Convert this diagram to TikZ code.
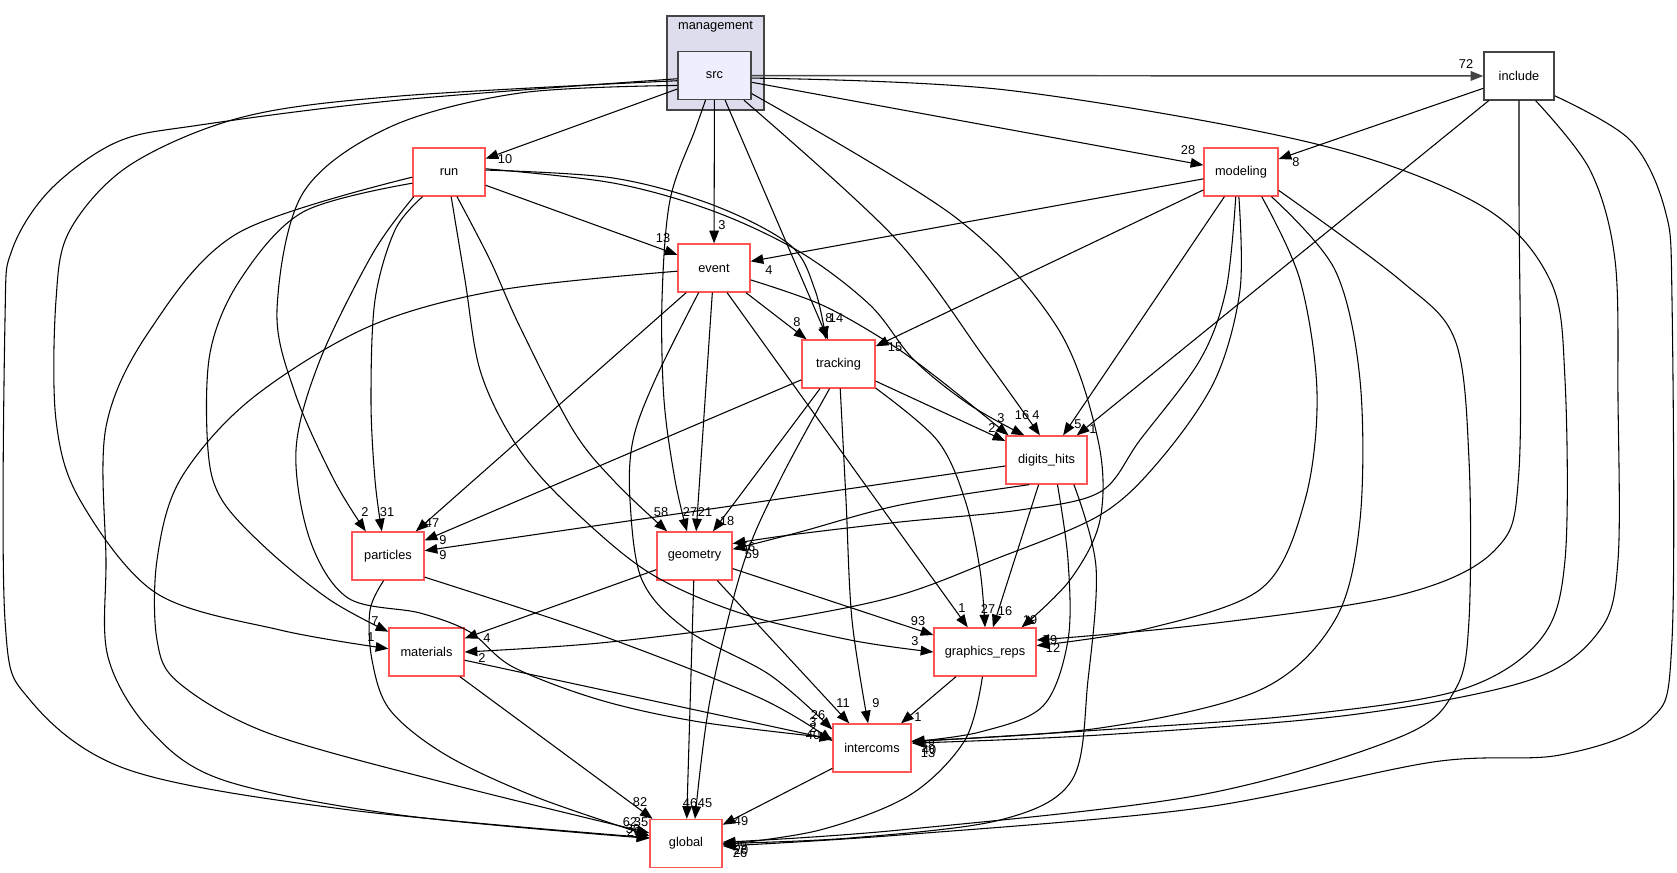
\documentclass[tikz,border=0pt]{standalone}
\usepackage{fontspec}
\setmainfont{Liberation Sans}
\usetikzlibrary{arrows.meta}
\definecolor{redb}{RGB}{255,85,85}
\definecolor{clus}{RGB}{221,221,238}
\definecolor{srcfill}{RGB}{238,238,255}
\definecolor{dgray}{RGB}{68,68,68}
\newcommand{\dfont}{\fontsize{9.6}{11}\selectfont}
\begin{document}
\begin{tikzpicture}[x=0.75pt,y=-0.75pt,
  box/.style={draw=redb, line width=1pt, fill=white, minimum height=36pt, inner sep=0pt, font=\dfont},
  dirbox/.style={draw=dgray, line width=1pt, minimum height=36pt, inner sep=0pt, font=\dfont},
  cluster/.style={draw=dgray, fill=clus, line width=1pt, inner sep=0pt},
  edge/.style={draw=black, line width=0.8pt, -{Triangle[length=9.5pt,width=7.2pt]}},
  sm/.style={smooth, tension=0.55},
  lbl/.style={inner sep=0pt, font=\dfont}]
\useasboundingbox (0,0) rectangle (1677,873);

% cluster
\node[cluster, minimum width=72.75pt, minimum height=70.5pt] (mgmt) at (715.5,63) {};
\node[lbl] (mgmtlabel) at (715.5,27) {management};

% nodes
\node[dirbox, fill=srcfill, minimum width=54.75pt] (src) at (714.5,75.5) {src};
\node[dirbox, fill=white, minimum width=52.5pt] (include) at (1519,76) {include};
\node[box, minimum width=55.5pt] (modeling) at (1241,172) {modeling};
\node[box, minimum width=54pt] (run) at (449,172) {run};
\node[box, minimum width=54pt] (event) at (714,268) {event};
\node[box, minimum width=54.75pt] (tracking) at (838.5,364) {tracking};
\node[box, minimum width=60.75pt] (digits) at (1046.5,460) {digits\_hits};
\node[box, minimum width=54pt] (particles) at (388,556) {particles};
\node[box, minimum width=56.25pt] (geometry) at (694.5,556) {geometry};
\node[box, minimum width=56.25pt] (materials) at (426.5,652) {materials};
\node[box, minimum width=76.5pt] (graphics) at (985,652) {graphics\_reps};
\node[box, minimum width=58.5pt] (intercoms) at (872,748) {intercoms};
\node[box, minimum width=54pt] (global) at (686,843.5) {global};

% ---- straight edges
\draw[edge, draw=dgray, line width=1.1pt] (src) -- (include);
\draw[edge] (src) -- (modeling);
\draw[edge] (src) -- (run);
\draw[edge] (src) -- (event);
\draw[edge] (src) -- (tracking);
\draw[edge] (include) -- (modeling);
\draw[edge] (include) -- (digits);
\draw[edge] (modeling) -- (event);
\draw[edge] (modeling) -- (tracking);
\draw[edge] (modeling) -- (digits);
\draw[edge] (run) -- (event);
\draw[edge] (event) -- (tracking);
\draw[edge] (event) -- (particles);
\draw[edge] (event) -- (geometry);
\draw[edge] (event.298) -- (graphics.125);
\draw[edge] (tracking) -- (digits);
\draw[edge] (tracking) -- (particles);
\draw[edge] (tracking) -- (geometry);
\draw[edge] (digits) -- (particles);
\draw[edge] (digits) -- (graphics);
\draw[edge] (geometry) -- (materials);
\draw[edge] (geometry) -- (graphics);
\draw[edge] (geometry) -- (intercoms);
\draw[edge] (geometry) -- (global);
\draw[edge] (materials) -- (intercoms);
\draw[edge] (materials) -- (global);
\draw[edge] (graphics) -- (intercoms);
\draw[edge] (intercoms) -- (global);

% ---- curved edges
% src
\draw[edge] plot[sm] coordinates {(src.195) (520,93) (390,127) (303,193) (277,310) (295,393) (334,480) (particles.132)};
\draw[edge] plot[sm] coordinates {(src.188) (400,96) (243,117) (130,165) (70,230) (56,300) (56,420) (80,500) (156,593) (280,630) (materials.175)};
\draw[edge] plot[sm] coordinates {(src.185) (400,100) (200,125) (117,142) (50,190) (12,250) (5,320) (5,620) (30,700) (129,770) (350,810) (global.171)};
\draw[edge] plot[sm] coordinates {(src.250) (695,130) (670,200) (662,300) (664,400) (675,480) (geometry.107)};
\draw[edge] plot[sm] coordinates {(src.320) (894,237) (986,360) (digits.105)};
\draw[edge] plot[sm] coordinates {(src.334) (955,217) (1057,327) (1098,440) (1100,520) (1070,580) (graphics.34)};
\draw[edge] plot[sm] coordinates {(src.356) (1006,90) (1312,143) (1480,205) (1550,280) (1565,380) (1565,560) (1540,640) (1460,690) (1300,715) (1100,730) (intercoms.9)};
% include
\draw[edge] plot[sm] coordinates {(include.south) (1519,200) (1519,470) (1495,550) (1400,595) (1200,625) (graphics.13)};
\draw[edge] plot[sm] coordinates {(include.304) (1590,170) (1615,260) (1618,400) (1618,560) (1600,630) (1530,680) (1350,715) (1100,735) (intercoms.7)};
\draw[edge] plot[sm] coordinates {(include.331) (1630,140) (1665,210) (1672,300) (1672,640) (1650,720) (1560,755) (1433,762) (1200,808) (900,835) (global.356)};
% modeling
\draw[edge] plot[sm] coordinates {(modeling.258) (1226,290) (1200,360) (1140,440) (1100,492) (1020,510) (900,522) (790,535) (geometry.18)};
\draw[edge] plot[sm] coordinates {(modeling.265) (1240,290) (1215,380) (1160,460) (1100,515) (993,560) (893,597) (760,623) (600,643) (materials.east)};
\draw[edge] plot[sm] coordinates {(modeling.310) (1300,280) (1317,393) (1305,500) (1262,588) (1150,628) (graphics.7)};
\draw[edge] plot[sm] coordinates {(modeling.321) (1335,270) (1360,380) (1360,520) (1335,620) (1260,690) (1100,728) (intercoms.10)};
\draw[edge] plot[sm] coordinates {(modeling.334) (1400,280) (1455,340) (1469,460) (1469,620) (1455,690) (1400,737) (1200,795) (900,830) (global.2)};
% run
\draw[edge] plot[sm] coordinates {(run.3) (613,178) (713,205) (790,245) (815,290) (tracking.117)};
\draw[edge] plot[sm] coordinates {(run.5) (613,183) (713,211) (800,252) (870,305) (914,360) (970,405) (digits.132)};
\draw[edge] plot[sm] coordinates {(run.223) (395,230) (375,300) (371,400) (375,480) (particles.104)};
\draw[edge] plot[sm] coordinates {(run.288) (490,260) (520,327) (573,430) (615,482) (geometry.138)};
\draw[edge] plot[sm] coordinates {(run.275) (465,280) (480,370) (513,440) (560,497) (645,570) (737,612) (850,640) (graphics.west)};
\draw[edge] plot[sm] coordinates {(run.197) (303,212) (240,280) (210,353) (208,450) (222,500) (268,550) (330,600) (materials.152)};
\draw[edge] plot[sm] coordinates {(run.215) (373,253) (320,360) (296,450) (310,540) (348,598) (420,613) (470,632) (513,667) (600,700) (700,722) (intercoms.166)};
\draw[edge] plot[sm] coordinates {(run.188) (238,233) (150,330) (106,427) (106,560) (108,657) (150,730) (223,780) (400,815) (global.172)};
% event
\draw[edge] plot[sm] coordinates {(event.342) (822,305) (889,343) (940,380) (digits.147)};
\draw[edge] plot[sm] coordinates {(event.238) (655,380) (633,440) (630,500) (642,580) (687,630) (770,675) (intercoms.155)};
\draw[edge] plot[sm] coordinates {(event.185) (500,290) (368,327) (250,400) (180,480) (157,560) (157,640) (179,683) (268,733) (446,783) (global.164)};
% tracking
\draw[edge] plot[sm] coordinates {(tracking.250) (780,480) (743,565) (710,700) (global.70)};
\draw[edge] plot[sm] coordinates {(tracking.274) (846,500) (852,620) (intercoms.99)};
\draw[edge] plot[sm] coordinates {(tracking.327) (937,440) (965,500) (980,570) (graphics.90)};
% digits
\draw[edge] plot[sm] coordinates {(digits.235) (900,505) (800,532) (geometry.10)};
\draw[edge] plot[sm] coordinates {(digits.294) (1068,560) (1068,640) (1043,706) (980,732) (intercoms.9)};
\draw[edge] plot[sm] coordinates {(digits.318) (1096,567) (1088,680) (1072,780) (1000,820) (850,838) (global.0)};
% particles
\draw[edge] plot[sm] coordinates {(particles.330) (600,635) (760,698) (intercoms.170)};
\draw[edge] plot[sm] coordinates {(particles.260) (370,610) (372,660) (390,710) (446,755) (536,797) (global.168)};
% graphics
\draw[edge] plot[sm] coordinates {(graphics.264) (965,740) (910,795) (820,830) (global.358)};

% ---- labels
\node[lbl] (l1) at (1466,64) {72};
\node[lbl] (l2) at (1188,150) {28};
\node[lbl] (l3) at (1296,162) {8};
\node[lbl] (l4) at (505,159) {10};
\node[lbl] (l5) at (722,225) {3};
\node[lbl] (l6) at (663,238) {13};
\node[lbl] (l7) at (769,270) {4};
\node[lbl] (l8) at (797,322) {8};
\node[lbl] (l9) at (829,318) {8};
\node[lbl] (l10) at (836,318) {14};
\node[lbl] (l11) at (895,347) {15};
\node[lbl] (l12) at (992,428) {2};
\node[lbl] (l13) at (1001,418) {3};
\node[lbl] (l14) at (1022,415) {16};
\node[lbl] (l15) at (1036,415) {4};
\node[lbl] (l16) at (1078,424) {5};
\node[lbl] (l17) at (1093,429) {1};
\node[lbl] (l18) at (365,512) {2};
\node[lbl] (l19) at (387,512) {31};
\node[lbl] (l20) at (432,523) {47};
\node[lbl] (l21) at (443,540) {9};
\node[lbl] (l22) at (443,555) {9};
\node[lbl] (l23) at (661,512) {58};
\node[lbl] (l24) at (690,512) {27};
\node[lbl] (l25) at (705,512) {21};
\node[lbl] (l26) at (727,521) {18};
\node[lbl] (l27) at (748,547) {56};
\node[lbl] (l28) at (752,554) {59};
\node[lbl] (l29) at (375,621) {7};
\node[lbl] (l30) at (371,637) {1};
\node[lbl] (l31) at (487,638) {4};
\node[lbl] (l32) at (482,658) {2};
\node[lbl] (l33) at (918,621) {93};
\node[lbl] (l34) at (915,641) {3};
\node[lbl] (l35) at (962,608) {1};
\node[lbl] (l36) at (988,609) {27};
\node[lbl] (l37) at (1005,611) {16};
\node[lbl] (l38) at (1030,620) {19};
\node[lbl] (l39) at (1050,640) {79};
\node[lbl] (l40) at (1053,648) {12};
\node[lbl] (l41) at (843,703) {11};
\node[lbl] (l42) at (876,703) {9};
\node[lbl] (l43) at (918,717) {1};
\node[lbl] (l44) at (818,715) {26};
\node[lbl] (l45) at (813,722) {3};
\node[lbl] (l46) at (813,728) {2};
\node[lbl] (l47) at (813,735) {40};
\node[lbl] (l48) at (928,745) {48};
\node[lbl] (l49) at (929,750) {40};
\node[lbl] (l50) at (928,753) {13};
\node[lbl] (l51) at (640,802) {82};
\node[lbl] (l52) at (690,803) {46};
\node[lbl] (l53) at (705,803) {45};
\node[lbl] (l54) at (741,821) {49};
\node[lbl] (l55) at (630,822) {62};
\node[lbl] (l56) at (641,822) {35};
\node[lbl] (l57) at (633,829) {30};
\node[lbl] (l58) at (634,832) {20};
\node[lbl] (l59) at (740,846) {29};
\node[lbl] (l60) at (741,850) {20};
\node[lbl] (l61) at (740,853) {26};
\end{tikzpicture}
\end{document}
